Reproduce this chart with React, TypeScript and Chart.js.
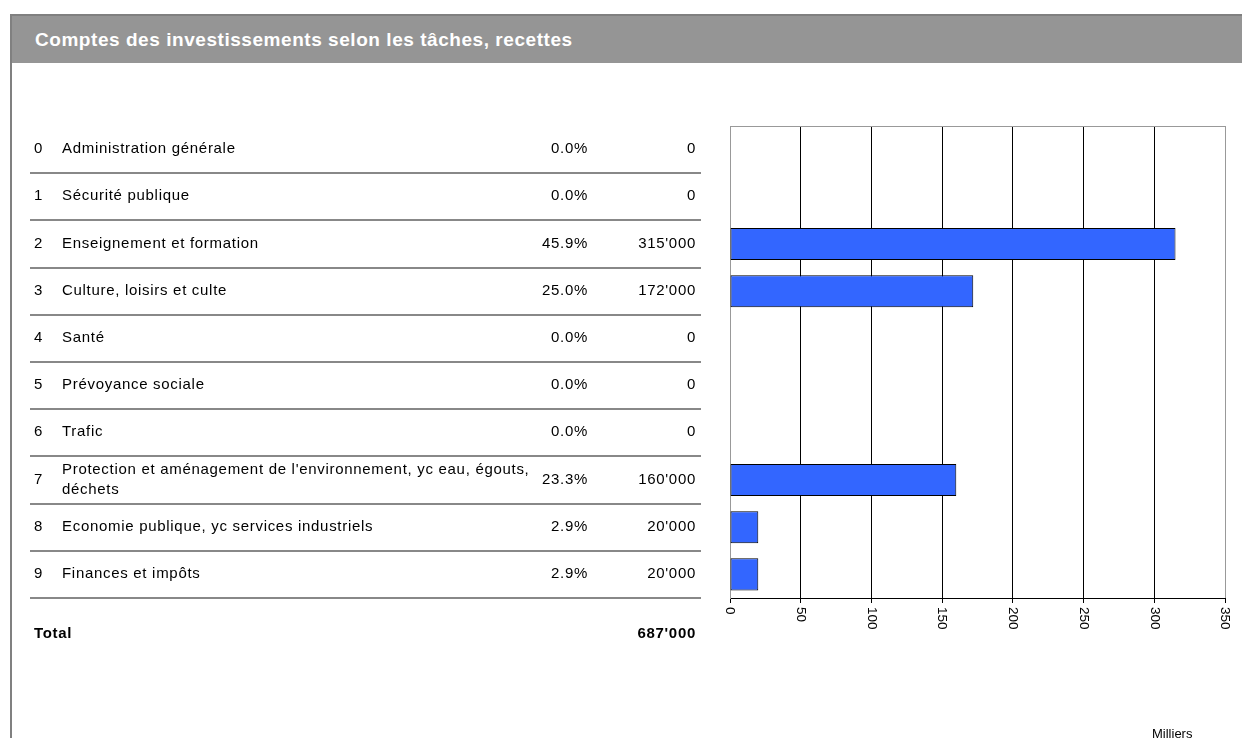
import React, { useEffect, useRef } from 'react';
import { Chart, registerables } from 'chart.js';

Chart.register(...registerables);

const TITLE = 'Comptes des investissements selon les tâches, recettes';
const CODES = ['0', '1', '2', '3', '4', '5', '6', '7', '8', '9'];
const TASKS = [
  'Administration générale',
  'Sécurité publique',
  'Enseignement et formation',
  'Culture, loisirs et culte',
  'Santé',
  'Prévoyance sociale',
  'Trafic',
  "Protection et aménagement de l'environnement, yc eau, égouts,\ndéchets",
  'Economie publique, yc services industriels',
  'Finances et impôts',
];
const AMOUNTS = [0, 0, 315000, 172000, 0, 0, 0, 160000, 20000, 20000];
const X_TICKS = [0, 50, 100, 150, 200, 250, 300, 350];
const TOTAL_LABEL = 'Total';
const UNIT_LABEL = 'Milliers';

const FONT_FAMILY = "'Liberation Sans', Arial, sans-serif";

const fmt = (n: number) => String(n).replace(/\B(?=(\d{3})+(?!\d))/g, "'");

const tablePlugin = {
  id: 'tablePlugin',
  afterDraw(chart: any) {
    const ctx: CanvasRenderingContext2D = chart.ctx;
    const yScale = chart.scales.y;
    const xScale = chart.scales.x;
    const area = chart.chartArea;
    const band = (area.bottom - area.top) / CODES.length;
    const total = AMOUNTS.reduce((a, b) => a + b, 0);

    ctx.save();
    // top border of plot
    ctx.strokeStyle = '#999999';
    ctx.lineWidth = 1;
    ctx.beginPath();
    const ty = Math.round(area.top) + 0.5;
    ctx.moveTo(area.left, ty);
    ctx.lineTo(area.right, ty);
    ctx.stroke();

    // table rows
    ctx.font = `15px ${FONT_FAMILY}`;
    (ctx as any).letterSpacing = '0.7px';
    ctx.textBaseline = 'middle';
    CODES.forEach((code, i) => {
      const cy = yScale.getPixelForValue(i) - 0.5;
      ctx.fillStyle = '#000000';
      ctx.textAlign = 'left';
      ctx.fillText(code, 34, cy);
      const lines = TASKS[i].split('\n');
      lines.forEach((ln, k) => {
        ctx.fillText(ln, 62, cy + (k - (lines.length - 1) / 2) * 20);
      });
      ctx.textAlign = 'right';
      const pct = total ? (AMOUNTS[i] / total) * 100 : 0;
      ctx.fillText(pct.toFixed(1) + '%', 588, cy);
      ctx.fillText(fmt(AMOUNTS[i]), 696, cy);
      const sy = Math.round(cy + 0.5 + band / 2);
      ctx.fillStyle = '#888888';
      ctx.fillRect(30, sy - 1, 671, 2);
    });

    // total row
    ctx.fillStyle = '#000000';
    ctx.font = `bold 15px ${FONT_FAMILY}`;
    const totY = area.bottom + 36;
    ctx.textAlign = 'left';
    ctx.fillText(TOTAL_LABEL, 34, totY);
    ctx.textAlign = 'right';
    ctx.fillText(fmt(total), 696, totY);

    // rotated x tick labels
    (ctx as any).letterSpacing = '0px';
    ctx.font = `13.5px ${FONT_FAMILY}`;
    ctx.textAlign = 'left';
    ctx.textBaseline = 'middle';
    X_TICKS.forEach((v) => {
      const px = xScale.getPixelForValue(v);
      ctx.save();
      ctx.translate(px, area.bottom + 9);
      ctx.rotate(Math.PI / 2);
      ctx.fillText(String(v), 0, 0);
      ctx.restore();
    });

    // unit label
    ctx.font = `13px ${FONT_FAMILY}`;
    ctx.textBaseline = 'alphabetic';
    ctx.textAlign = 'left';
    ctx.fillText(UNIT_LABEL, 1152, 738);
    ctx.restore();
  },
};

export default function App() {
  const canvasRef = useRef<HTMLCanvasElement | null>(null);

  useEffect(() => {
    document.body.style.margin = '0';
    const canvas = canvasRef.current;
    if (!canvas) return;
    const chart = new Chart(canvas, {
      type: 'bar',
      data: {
        labels: CODES,
        datasets: [
          {
            data: AMOUNTS.map((a) => a / 1000),
            backgroundColor: '#3366FF',
            borderColor: '#000000',
            borderWidth: 1,
            borderSkipped: false,
            barPercentage: 0.68,
            categoryPercentage: 1,
          },
        ],
      },
      options: {
        indexAxis: 'y',
        responsive: false,
        animation: false,
        devicePixelRatio: 1,
        layout: { padding: { left: 730, top: 126, right: 17, bottom: 135 } },
        plugins: {
          legend: { display: false },
          tooltip: { enabled: false },
          title: { display: false },
        },
        scales: {
          x: {
            type: 'linear',
            min: 0,
            max: 350,
            ticks: { display: false, stepSize: 50 },
            grid: {
              color: (c: any) =>
                c.tick && (c.tick.value === 0 || c.tick.value === 350) ? '#999999' : '#000000',
              tickColor: '#000000',
              tickLength: 5,
              drawTicks: true,
              lineWidth: 1,
            },
            border: { display: true, color: '#000000', width: 1 },
          },
          y: {
            ticks: { display: false },
            grid: { display: false, drawTicks: false },
            border: { display: true, color: '#999999', width: 1 },
          },
        },
      },
      plugins: [tablePlugin],
    } as any);
    return () => chart.destroy();
  }, []);

  return (
    <div style={{ position: 'relative', width: 1242, height: 738, overflow: 'hidden', background: '#ffffff' }}>
      <canvas
        ref={canvasRef}
        width={1242}
        height={738}
        style={{ position: 'absolute', left: 0, top: 0, width: 1242, height: 738 }}
      />
      <div
        style={{
          position: 'absolute',
          left: 10,
          top: 14,
          width: 2,
          height: 724,
          background: '#808080',
        }}
      />
      <div
        style={{
          position: 'absolute',
          left: 10,
          top: 14,
          right: 0,
          height: 49,
          boxSizing: 'border-box',
          background: '#959595',
          borderTop: '2px solid #808080',
          borderLeft: '2px solid #808080',
          color: '#ffffff',
          font: `bold 19px ${FONT_FAMILY}`,
          letterSpacing: '0.55px',
          display: 'flex',
          alignItems: 'center',
          paddingLeft: 23,
        }}
      >
        {TITLE}
      </div>
    </div>
  );
}
